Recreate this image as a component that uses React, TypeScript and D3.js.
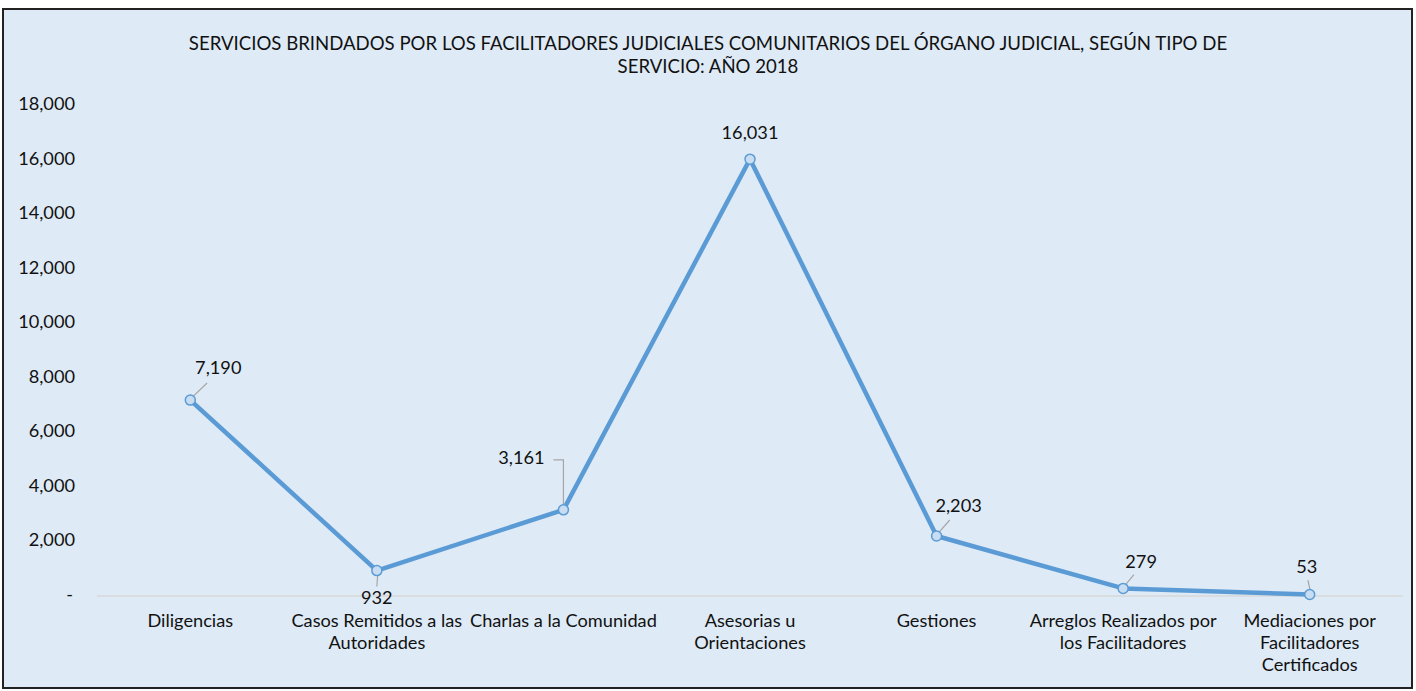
import React, { useEffect, useRef } from "react";
import * as d3 from "d3";

const categories = [
  ["Diligencias"],
  ["Casos Remitidos a las", "Autoridades"],
  ["Charlas a la Comunidad"],
  ["Asesorias u", "Orientaciones"],
  ["Gestiones"],
  ["Arreglos Realizados por", "los Facilitadores"],
  ["Mediaciones por", "Facilitadores", "Certificados"],
];
const values = [7190, 932, 3161, 16031, 2203, 279, 53];
const yTicks = [0, 2000, 4000, 6000, 8000, 10000, 12000, 14000, 16000, 18000];
const titleLines = [
  "SERVICIOS BRINDADOS POR LOS FACILITADORES JUDICIALES COMUNITARIOS DEL ÓRGANO JUDICIAL, SEGÚN TIPO DE",
  "SERVICIO: AÑO 2018",
];

// label placement relative to the point (dx, dy of text center) and leader style
const labelPlace = [
  { dx: 28, dy: -31, leader: "diag" },
  { dx: 0, dy: 29, leader: "diag" },
  { dx: -42, dy: -50, leader: "elbow" },
  { dx: 0, dy: -25, leader: "none" },
  { dx: 22, dy: -29, leader: "diag" },
  { dx: 18, dy: -25, leader: "diag" },
  { dx: -3, dy: -26, leader: "diag" },
];

const W = 1416;
const H = 691;
const font = "Lato, 'Open Sans', sans-serif";
const fs = 18.2;

export default function App() {
  const ref = useRef<SVGSVGElement>(null);

  useEffect(() => {
    if (!ref.current) return;
    const svg = d3.select(ref.current);
    svg.selectAll("*").remove();

    svg.append("rect")
      .attr("x", 3).attr("y", 9).attr("width", 1409).attr("height", 679)
      .attr("fill", "#DEEAF6").attr("stroke", "#222").attr("stroke-width", 2);

    svg.append("g").selectAll("text").data(titleLines).enter().append("text")
      .attr("x", 708).attr("y", (d, i) => 45 + i * 23)
      .attr("text-anchor", "middle").attr("dominant-baseline", "middle")
      .attr("font-family", font).attr("font-size", fs + 0.4).attr("fill", "#111")
      .text(d => d);

    const x = d3.scaleBand<number>().domain(d3.range(categories.length)).range([97, 1403]);
    const y = d3.scaleLinear().domain([0, 18000]).range([596, 105.5]);
    const cx = (i: number) => (x(i) as number) + x.bandwidth() / 2;

    // y tick labels
    svg.append("g").selectAll("text").data(yTicks).enter().append("text")
      .attr("x", v => (v === 0 ? 73 : 75)).attr("y", v => y(v))
      .attr("text-anchor", "end").attr("dominant-baseline", "middle")
      .attr("font-family", font).attr("font-size", fs).attr("fill", "#111")
      .text(v => (v === 0 ? "-" : d3.format(",")(v)));

    // baseline
    svg.append("line")
      .attr("x1", 97).attr("x2", 1403).attr("y1", y(0)).attr("y2", y(0))
      .attr("stroke", "#D9D9D9").attr("stroke-width", 1.5);

    // category labels
    const cat = svg.append("g").selectAll("text").data(categories).enter().append("text")
      .attr("text-anchor", "middle")
      .attr("font-family", font).attr("font-size", fs).attr("fill", "#111");
    cat.each(function (lines, i) {
      d3.select(this).selectAll("tspan").data(lines).enter().append("tspan")
        .attr("x", cx(i)).attr("y", (d, j) => 622 + j * 22)
        .attr("dominant-baseline", "middle")
        .text(d => d);
    });

    // leader lines
    const lg = svg.append("g").attr("stroke", "#A6A6A6").attr("stroke-width", 1.2).attr("fill", "none");
    values.forEach((v, i) => {
      const px = cx(i), py = y(v);
      const p = labelPlace[i];
      if (p.leader === "diag") {
        const tx = px + p.dx * 0.6, ty = py + p.dy * 0.55;
        lg.append("line").attr("x1", px + 1).attr("y1", py + (p.dy > 0 ? 2 : -2)).attr("x2", tx).attr("y2", ty);
      } else if (p.leader === "elbow") {
        lg.append("path").attr("d", `M${px - 10},${py + p.dy}H${px}V${py - 5}`);
      }
    });

    // line
    const line = d3.line<number>().x((d, i) => cx(i)).y(d => y(d));
    svg.append("path").datum(values)
      .attr("d", line).attr("fill", "none")
      .attr("stroke", "#5B9BD5").attr("stroke-width", 4.5).attr("stroke-linejoin", "round");

    svg.append("g").selectAll("circle").data(values).enter().append("circle")
      .attr("cx", (d, i) => cx(i)).attr("cy", d => y(d)).attr("r", 5)
      .attr("fill", "#C9DDF2").attr("stroke", "#5B9BD5").attr("stroke-width", 1.5);

    // data labels
    svg.append("g").selectAll("text").data(values).enter().append("text")
      .attr("x", (d, i) => cx(i) + labelPlace[i].dx)
      .attr("y", (d, i) => y(d) + labelPlace[i].dy)
      .attr("text-anchor", "middle").attr("dominant-baseline", "middle")
      .attr("font-family", font).attr("font-size", fs).attr("fill", "#111")
      .text(d => d3.format(",")(d));
  }, []);

  return (
    <svg ref={ref} width={W} height={H} style={{ position: "absolute", left: 0, top: 0, background: "#fff" }} />
  );
}
